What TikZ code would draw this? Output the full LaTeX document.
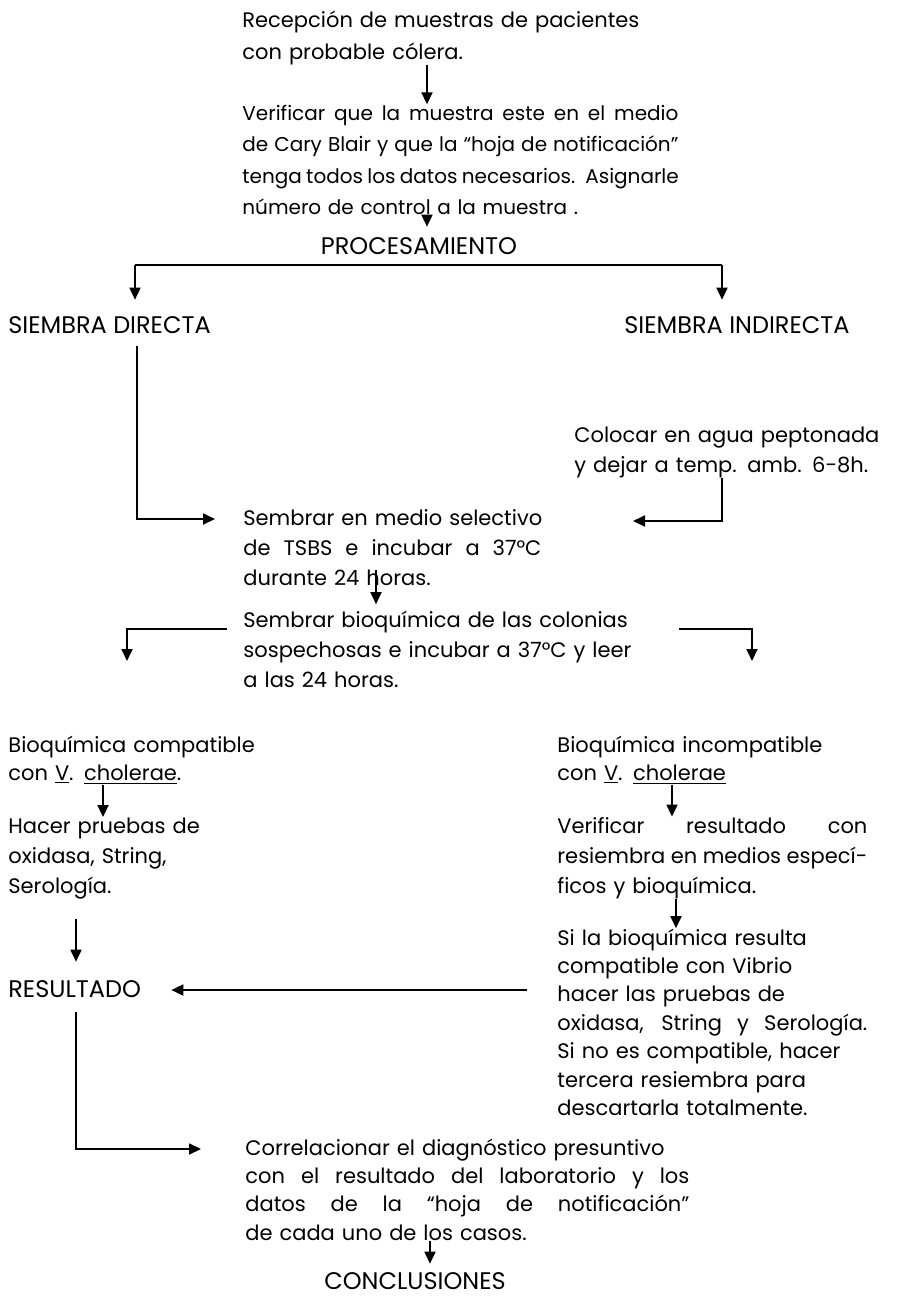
\documentclass[tikz,border=0pt]{standalone}
\usepackage{fontspec}
\setmainfont{Poppins}
\usetikzlibrary{arrows.meta}

% linea justificada a un ancho fijo
\newcommand*{\JLine}[2]{\leavevmode\hbox to #1{\spaceskip=\fontdimen2\font plus 1em minus 0.05em\relax #2}}

\tikzset{
  paso/.style={anchor=base west, inner sep=0pt, align=left, text width=210pt,
    font=\fontsize{10.5}{#1}\selectfont},
  paso/.default=15pt,
  titulo/.style={anchor=base west, inner sep=0pt, font=\fontsize{12}{14}\selectfont},
  flecha/.style={-{Triangle[length=6pt,width=5.5pt]}, line width=0.9pt},
  linea/.style={line width=0.9pt}
}

\begin{document}
\begin{tikzpicture}[x=0.5pt,y=-0.5pt]
            \useasboundingbox (0,0) rectangle (904,1297);
            % columnas de las flechas
            \coordinate (ejeA) at (427,0);
            \coordinate (ejeB) at (376,0);
            \coordinate (ejeC) at (430,0);
            \coordinate (colSD) at (137,0);
            \coordinate (colSI) at (722,0);
            \coordinate (colBC) at (127,0);
            \coordinate (colBI) at (752,0);
            \coordinate (colHP) at (103,0);
            \coordinate (colSe) at (76,0);
            \coordinate (colVR) at (672,0);
            \coordinate (colSL) at (676,0);

            \node[paso=16pt] (recepcion) at (242,27)
              {Recepción de muestras de pacientes\\con probable cólera.};
            \node[paso=15.8pt, text width=218pt, font=\fontsize{10}{15.8pt}\selectfont] (verificar) at (242,120)
              {\JLine{218pt}{Verificar que la muestra este en el medio}\\
               \JLine{218pt}{de Cary Blair y que la “hoja de notificación”}\\
               \JLine{218pt}{tenga todos los datos necesarios. Asignarle}\\
               número de control a la muestra .};
            \node[titulo, anchor=base] (proc) at (419,254) {PROCESAMIENTO};
            \node[titulo] (sdirecta) at (8,333) {SIEMBRA DIRECTA};
            \node[titulo] (sindirecta) at (624,333) {SIEMBRA INDIRECTA};
            \node[paso] (colocar) at (574,442)
              {Colocar en agua peptonada\\y dejar a temp. amb. 6-8h.};
            \node[paso, text width=150pt] (sembrar1) at (243,525)
              {Sembrar en medio selectivo\\
               \JLine{149pt}{de TSBS e incubar a 37°C}\\
               durante 24 horas.};
            \node[paso] (sembrar2) at (243,627)
              {Sembrar bioquímica de las colonias\\
               sospechosas e incubar a 37°C y leer\\
               a las 24 horas.};
            \node[paso=14pt] (bcompat) at (8,752)
              {Bioquímica compatible\\con \underline{V}. \underline{cholerae}.};
            \node[paso=14pt] (bincompat) at (557,752)
              {Bioquímica incompatible\\con \underline{V}. \underline{cholerae}};
            \node[paso, text width=157pt] (verres) at (557,833)
              {\JLine{155pt}{Verificar resultado con}\\
               \JLine{155pt}{resiembra en medios especí-}\\
               ficos y bioquímica.};
            \node[paso] (hacer) at (8,833)
              {Hacer pruebas de\\oxidasa, String,\\Serología.};
            \node[paso=14.2pt, text width=157pt] (sila) at (557,945)
              {Si la bioquímica resulta\\
               compatible con Vibrio\\
               hacer las pruebas de\\
               \JLine{155pt}{oxidasa, String y Serología.}\\
               Si no es compatible, hacer\\
               tercera resiembra para\\
               descartarla totalmente.};
            \node[titulo] (resultado) at (8,997) {RESULTADO};
            \node[paso=14.2pt, text width=222pt] (correl) at (245,1155)
              {Correlacionar el diagnóstico presuntivo\\
               \JLine{222pt}{con el resultado del laboratorio y los}\\
               \JLine{222pt}{datos de la “hoja de notificación”}\\
               de cada uno de los casos.};
            \node[titulo, anchor=base] (concl) at (415,1289) {CONCLUSIONES};

            \draw[flecha] (recepcion.south -| ejeA) -- (verificar.north -| ejeA);
            \draw[flecha, shorten <=-5pt, shorten >=5pt] (verificar.south -| ejeA) -- (proc.north -| ejeA);
            \coordinate (bifI) at (135,265);
            \coordinate (bifD) at (722,265);
            \draw[linea] (bifI) -- (bifD);
            \draw[flecha, shorten >=8pt] (bifI) -- (sdirecta.north -| bifI);
            \draw[flecha, shorten >=8pt] (bifD) -- (sindirecta.north -| bifD);
            \draw[flecha, shorten <=6pt] (sdirecta.south -| colSD) |- ([xshift=-14pt,yshift=3pt]sembrar1.base west);
            \draw[flecha] (colocar.south -| colSI) |- ([xshift=195pt,yshift=2pt]sembrar1.base west);
            \draw[flecha, shorten <=-8pt, shorten >=3pt] (sembrar1.south -| ejeB) -- (sembrar2.north -| ejeB);
            \draw[flecha] ([xshift=-8pt,yshift=-1pt]sembrar2.base west) -| ([yshift=-17pt]colBC |- sembrar2.base);
            \draw[flecha] ([xshift=218pt,yshift=-1pt]sembrar2.base west) -| ([yshift=-17pt]colBI |- sembrar2.base);
            \draw[flecha] (bcompat.south -| colHP) -- (hacer.north -| colHP);
            \draw[flecha] (bincompat.south -| colVR) -- (verres.north -| colVR);
            \draw[flecha, shorten <=10pt, shorten >=9pt] (hacer.south -| colSe) -- (resultado.north -| colSe);
            \draw[flecha] (verres.south -| colSL) -- (sila.north -| colSL);
            \coordinate (salida) at (527,990);
            \draw[flecha, shorten >=15pt] (salida) -- (resultado.east |- salida);
            \draw[flecha, shorten <=7pt] (resultado.south -| colSe) |- ([xshift=-22pt,yshift=3pt]correl.base west);
            \draw[flecha, shorten >=4pt] (correl.south -| ejeC) -- (concl.north -| ejeC);
\end{tikzpicture}
\end{document}
